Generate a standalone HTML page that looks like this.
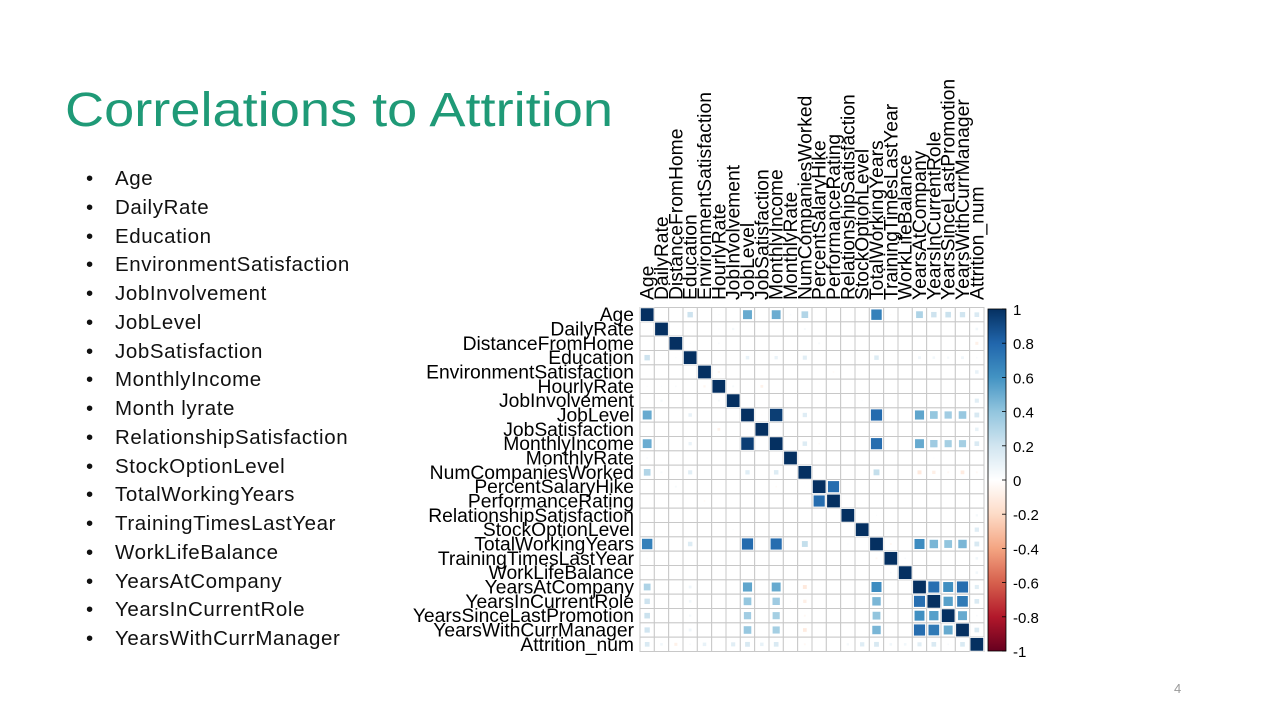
<!DOCTYPE html>
<html><head><meta charset="utf-8"><style>
html,body{margin:0;padding:0;background:#fff;}
body{width:1280px;height:720px;overflow:hidden;position:relative;font-family:"Liberation Sans",sans-serif;}
ul{position:absolute;left:90px;top:165px;margin:0;padding:0;list-style:none;font-size:20.5px;color:#111;letter-spacing:0.6px;}
li{height:28.75px;line-height:28.75px;position:relative;padding-left:25px;}
li:before{content:"•";position:absolute;left:-4px;}
</style></head><body>
<svg width="1280" height="720" style="position:absolute;left:0;top:0">
<text x="65" y="126" font-size="48" fill="#1f9a77" textLength="548" lengthAdjust="spacingAndGlyphs">Correlations to Attrition</text>
<text x="1174" y="693" font-size="13" fill="#999">4</text>
<g id="chart"></g>
</svg>
<ul>
<li>Age</li>
<li>DailyRate</li>
<li>Education</li>
<li>EnvironmentSatisfaction</li>
<li>JobInvolvement</li>
<li>JobLevel</li>
<li>JobSatisfaction</li>
<li>MonthlyIncome</li>
<li>Month lyrate</li>
<li>RelationshipSatisfaction</li>
<li>StockOptionLevel</li>
<li>TotalWorkingYears</li>
<li>TrainingTimesLastYear</li>
<li>WorkLifeBalance</li>
<li>YearsAtCompany</li>
<li>YearsInCurrentRole</li>
<li>YearsWithCurrManager</li>
</ul>
<script>
const variables = ["Age","DailyRate","DistanceFromHome","Education","EnvironmentSatisfaction","HourlyRate","JobInvolvement","JobLevel","JobSatisfaction","MonthlyIncome","MonthlyRate","NumCompaniesWorked","PercentSalaryHike","PerformanceRating","RelationshipSatisfaction","StockOptionLevel","TotalWorkingYears","TrainingTimesLastYear","WorkLifeBalance","YearsAtCompany","YearsInCurrentRole","YearsSinceLastPromotion","YearsWithCurrManager","Attrition_num"];
// pairwise correlations [i, j, r]
const pairs = [
[0,3,0.21],[0,7,0.51],[0,9,0.50],[0,11,0.30],[0,16,0.68],[0,19,0.31],[0,20,0.21],[0,21,0.22],[0,22,0.20],[0,23,0.16],
[0,1,0.01],[0,5,0.02],[0,10,0.03],[0,12,0.00],[0,17,-0.02],[0,2,0.00],
[1,6,0.05],[1,23,0.06],[1,9,0.01],[1,11,0.04],[1,5,0.02],
[2,23,-0.08],[2,3,0.02],[2,5,0.03],[2,12,0.04],
[3,7,0.10],[3,9,0.09],[3,11,0.13],[3,16,0.15],[3,19,0.07],[3,20,0.06],[3,21,0.05],[3,22,0.07],[3,23,0.03],
[4,23,0.10],[4,5,-0.05],[4,11,0.01],[4,13,-0.03],
[5,8,-0.07],[5,6,0.04],[5,16,0.00],[5,12,-0.01],
[6,7,-0.01],[6,23,0.13],[6,15,0.02],
[7,9,0.95],[7,16,0.78],[7,19,0.53],[7,20,0.39],[7,21,0.35],[7,22,0.38],[7,23,0.17],[7,11,0.14],[7,8,-0.02],
[8,23,0.10],[8,10,0.00],
[9,16,0.77],[9,19,0.51],[9,20,0.36],[9,21,0.34],[9,22,0.34],[9,23,0.16],[9,11,0.15],[9,12,-0.03],
[10,12,-0.01],[10,20,0.02],
[11,16,0.24],[11,19,-0.12],[11,20,-0.09],[11,21,-0.04],[11,22,-0.11],[11,23,-0.04],[11,12,-0.01],
[12,13,0.77],[12,23,0.01],
[14,23,0.05],[14,16,0.02],
[15,23,0.14],[15,16,0.01],
[16,19,0.63],[16,20,0.46],[16,21,0.40],[16,22,0.46],[16,23,0.17],[16,17,-0.04],[16,18,0.00],
[17,23,0.06],[17,18,0.03],
[18,23,0.06],[18,19,0.01],
[19,20,0.76],[19,21,0.62],[19,22,0.77],[19,23,0.13],
[20,21,0.55],[20,22,0.71],[20,23,0.16],
[21,22,0.51],[21,23,0.03],
[22,23,0.16]
];
const colorStops = [-1,-0.8,-0.6,-0.4,-0.2,0,0.2,0.4,0.6,0.8,1];
const colorValues = ["#67001F","#B2182B","#D6604D","#F4A582","#FDDBC7","#FFFFFF","#D1E5F0","#92C5DE","#4393C3","#2166AC","#053061"];
const tickLabels = ["1","0.8","0.6","0.4","0.2","0","-0.2","-0.4","-0.6","-0.8","-1"];

const NS="http://www.w3.org/2000/svg";
const g=document.getElementById('chart');
const n=variables.length, X0=640, Y0=307.5, W=344, cell=W/n, FS=19.3;
function mk(t,a){const e=document.createElementNS(NS,t);for(const k in a)e.setAttribute(k,a[k]);g.appendChild(e);return e;}
function hex(c){return [1,3,5].map(i=>parseInt(c.substr(i,2),16));}
function color(r){for(let i=0;i<colorStops.length-1;i++){if(r<=colorStops[i+1]){const t=(r-colorStops[i])/(colorStops[i+1]-colorStops[i]);const a=hex(colorValues[i]),b=hex(colorValues[i+1]);return "rgb("+a.map((v,k)=>Math.round(v+(b[k]-v)*t)).join(",")+")";}}return colorValues[10];}
const M=[];for(let i=0;i<n;i++){M.push(new Array(n).fill(0));M[i][i]=1;}
pairs.forEach(p=>{M[p[0]][p[1]]=p[2];M[p[1]][p[0]]=p[2];});
const xs=j=>X0+j*cell, ys=i=>Y0+i*cell;
for(let i=0;i<n;i++)for(let j=0;j<n;j++){
  const c=mk('rect',{x:xs(j),y:ys(i),width:cell,height:cell,fill:'#fff',stroke:'#c8c8c8','stroke-width':1});
  
  
}
for(let i=0;i<n;i++)for(let j=0;j<n;j++){
  const r=M[i][j]; if(Math.abs(r)<0.005) continue;
  const s=cell*Math.sqrt(Math.abs(r))*0.95;
  const sq=mk('rect',{x:xs(j)+(cell-s)/2,y:ys(i)+(cell-s)/2,width:s,height:s,fill:color(r),stroke:'#fff','stroke-width':0.8});
  
  
}
variables.forEach((v,i)=>{
  const t=mk('text',{x:634,y:ys(i)+cell/2+6.5,'text-anchor':'end','font-size':FS,fill:'#000'});t.textContent=v;
  
  
  const cx=xs(i)+cell/2+6.5;
  const c=mk('text',{x:cx,y:300,transform:`rotate(-90 ${cx} 300)`,'font-size':FS,fill:'#000'});c.textContent=v;
  
  
});
const CB0=309, CB1=651, cbx=988, cbw=18;
const defs=mk('defs',{});
const lg=document.createElementNS(NS,'linearGradient');lg.setAttribute('id','cbg');lg.setAttribute('x1','0');lg.setAttribute('y1','1');lg.setAttribute('x2','0');lg.setAttribute('y2','0');defs.appendChild(lg);
colorStops.forEach((s,i)=>{const st=document.createElementNS(NS,'stop');st.setAttribute('offset',(s+1)/2);st.setAttribute('stop-color',colorValues[i]);lg.appendChild(st);});
const cb=mk('rect',{x:cbx,y:CB0,width:cbw,height:CB1-CB0,fill:'url(#cbg)',stroke:'#000','stroke-width':0.8});


tickLabels.forEach((l,i)=>{
  const y=CB0+(CB1-CB0)*(1-(parseFloat(l)+1)/2);
  const tk=mk('line',{x1:cbx+cbw-4,x2:cbx+cbw,y1:y,y2:y,stroke:'#000','stroke-width':0.8});
  
  
  const t=mk('text',{x:1013,y:y+6,'font-size':15,fill:'#000'});t.textContent=l;
  
  
});
</script>
</body></html>
